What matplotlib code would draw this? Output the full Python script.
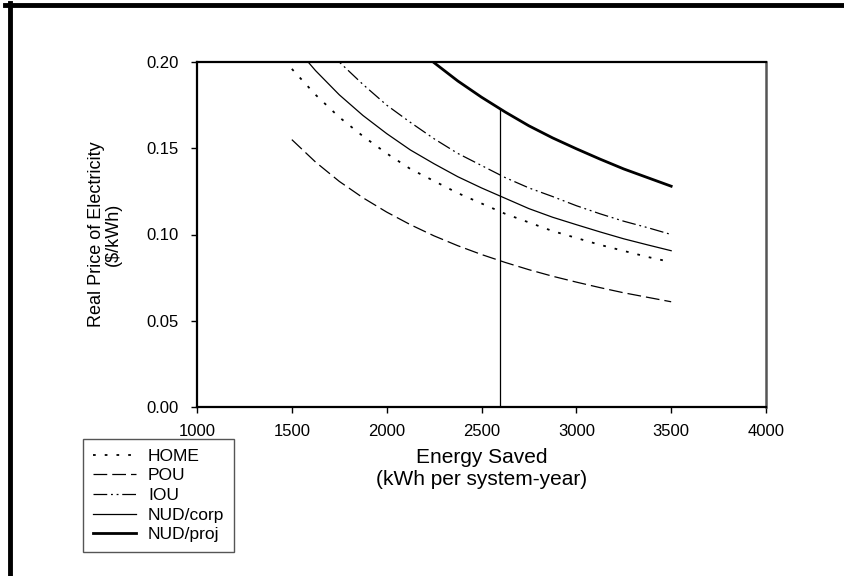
import numpy as np
import matplotlib
matplotlib.use("Agg")
import matplotlib.pyplot as plt
from matplotlib.lines import Line2D

plt.rcParams["font.family"] = ["Liberation Sans", "DejaVu Sans"]

# Energy saved (kWh per system-year) and break-even electricity price ($/kWh)
energy = [1500, 1625, 1750, 1875, 2000, 2125, 2250, 2375, 2500,
          2625, 2750, 2875, 3000, 3125, 3250, 3375, 3500]
home = [0.196, 0.181, 0.168, 0.157, 0.147, 0.138, 0.131, 0.124, 0.118,
        0.112, 0.107, 0.102, 0.098, 0.094, 0.0905, 0.087, 0.084]
pou = [0.155, 0.142, 0.1308, 0.1213, 0.113, 0.1057, 0.0992, 0.0935, 0.0884,
       0.0838, 0.0796, 0.0758, 0.0724, 0.0692, 0.0662, 0.0636, 0.061]
iou = [0.233, 0.215, 0.200, 0.187, 0.175, 0.165, 0.1555, 0.147, 0.140,
       0.133, 0.127, 0.122, 0.1167, 0.112, 0.1077, 0.104, 0.100]
nud_corp = [0.211, 0.195, 0.181, 0.169, 0.1585, 0.149, 0.141, 0.1335, 0.127,
            0.121, 0.115, 0.110, 0.1057, 0.1015, 0.0975, 0.094, 0.0906]
nud_proj = [0.299, 0.276, 0.257, 0.2395, 0.2245, 0.211, 0.1996, 0.189, 0.1796,
            0.171, 0.163, 0.156, 0.1497, 0.1437, 0.138, 0.133, 0.128]
marker_energy = 2600

x_ticks = [1000, 1500, 2000, 2500, 3000, 3500, 4000]
y_ticks = [0.00, 0.05, 0.10, 0.15, 0.20]

W, H = 844, 576
fig = plt.figure(figsize=(W / 100, H / 100), dpi=100)
ax = fig.add_axes([197 / W, 1 - 407 / H, (766 - 197) / W, (407 - 62) / H])

ax.plot(energy, home, color="black", lw=1.3, ls=(0, (1.5, 5)), label="HOME")
ax.plot(energy, pou, color="black", lw=0.9, ls=(0, (11, 4)), label="POU")
ax.plot(energy, iou, color="black", lw=0.9, ls=(0, (11, 3, 1.5, 3, 1.5, 3)), label="IOU")
ax.plot(energy, nud_corp, color="black", lw=0.9, label="NUD/corp")
ax.plot(energy, nud_proj, color="black", lw=2.0, label="NUD/proj")

# vertical marker up to the NUD/proj curve
top = np.interp(marker_energy, energy, nud_proj)
ax.plot([marker_energy, marker_energy], [0, top], color="black", lw=0.9)

ax.set_xlim(1000, 4000)
ax.set_ylim(0, 0.20)
ax.set_xticks(x_ticks)
ax.set_yticks(y_ticks)
ax.set_yticklabels([f"{v:.2f}" for v in y_ticks])
ax.tick_params(direction="out", length=4, width=1, labelsize=12)
ax.tick_params(axis="y", pad=9)
ax.tick_params(axis="x", pad=8)
for side in ["left", "top", "bottom"]:
    ax.spines[side].set_linewidth(1.6)
    ax.spines[side].set_color("black")
ax.spines["right"].set_linewidth(1.8)
ax.spines["right"].set_color("#555555")

ax.set_xlabel("Energy Saved\n(kWh per system-year)", fontsize=15, labelpad=7,
              linespacing=1.15)
ax.set_ylabel("Real Price of Electricity\n($/kWh)", fontsize=13, labelpad=18,
              linespacing=1.0)

fig.legend(loc="upper left", bbox_to_anchor=(83 / W, 1 - 439 / H),
           borderaxespad=0, fontsize=12.5, handlelength=2.5, handletextpad=0.7,
           labelspacing=0.26, fancybox=False, edgecolor="#555555",
           framealpha=1, borderpad=0.55)

# black frame lines along the top and left edges
fig.add_artist(Line2D([5 / W, 1], [1 - 5 / H, 1 - 5 / H], color="black", lw=3.5,
                      transform=fig.transFigure))
fig.add_artist(Line2D([10 / W, 10 / W], [0, 1 - 3 / H], color="black", lw=3.5,
                      transform=fig.transFigure))

fig.savefig("out.png", dpi=100)
